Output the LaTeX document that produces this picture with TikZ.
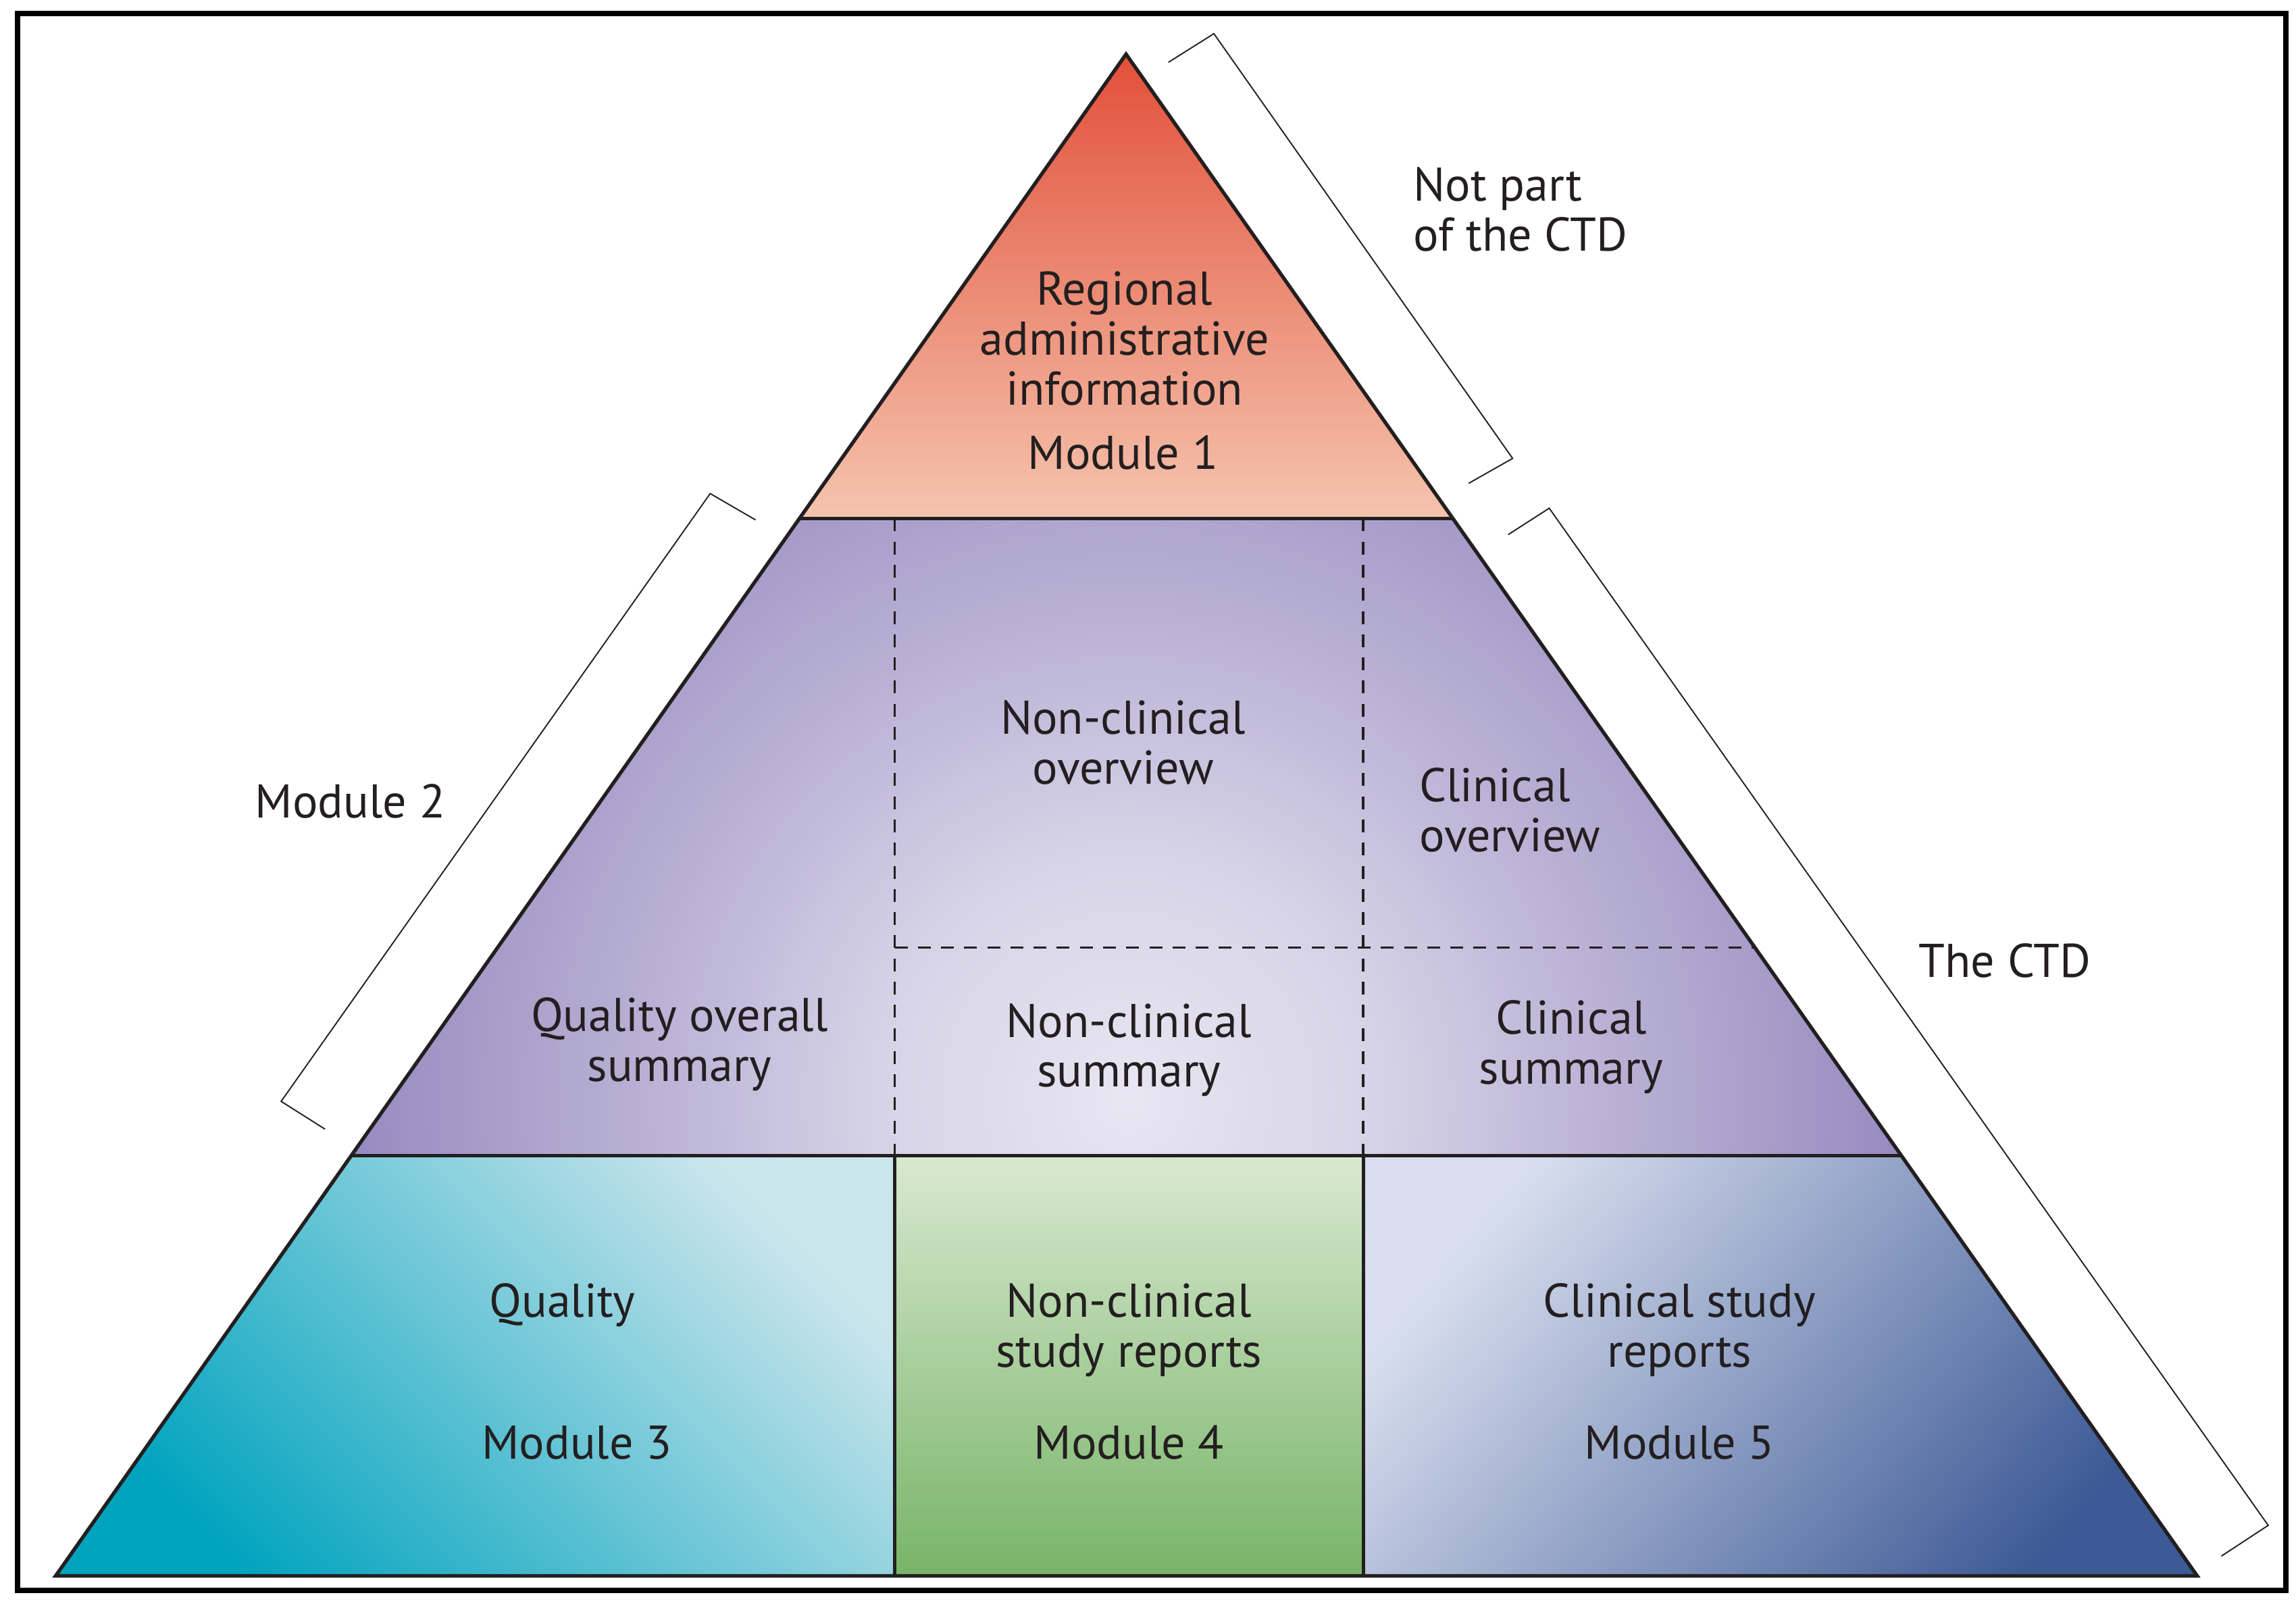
\documentclass[tikz,border=0pt]{standalone}
\usepackage{fontspec}
\setmainfont{PT Sans}
\usetikzlibrary{arrows}

\definecolor{redtop}{HTML}{E2503A}
\definecolor{redlow}{HTML}{F5C4AE}
\definecolor{pg0}{HTML}{E8E6F1}
\definecolor{pg1}{HTML}{D6D3E7}
\definecolor{pg2}{HTML}{BDB6D8}
\definecolor{pg3}{HTML}{ADA5CD}
\definecolor{pg4}{HTML}{968BC0}
\definecolor{pg5}{HTML}{8A7DB6}
\definecolor{tealdark}{HTML}{00A3BE}
\definecolor{teallight}{HTML}{CAE5EC}
\definecolor{greenlight}{HTML}{D8E8D0}
\definecolor{greendark}{HTML}{78B468}
\definecolor{bluelight}{HTML}{D8DEEE}
\definecolor{bluedark}{HTML}{3D5A96}
\definecolor{ink}{HTML}{231F20}
\pgfdeclareradialshading{purpleglow}{\pgfpoint{0cm}{0cm}}{color(0cm)=(pg0); color(3.4cm)=(pg1); color(6.1cm)=(pg2); color(8cm)=(pg3); color(10.6cm)=(pg4); color(14cm)=(pg5)}

\begin{document}
\begin{tikzpicture}[x=.02cm, y=-.02cm]
\tikzstyle{every node}=[inner sep=0pt, align=center, text=ink, font=\fontsize{18.4}{19.4}\selectfont]
\tikzstyle{edge}=[line width=1.4pt, draw=ink, line join=miter]
\tikzstyle{cut}=[line width=1pt, draw=ink, dash pattern=on 5pt off 4pt]
\tikzstyle{brack}=[line width=.5pt, draw=ink]
\useasboundingbox (0,0) rectangle (1568,1099.3);
\draw[line width=2.1pt] (12,9.2) rectangle (1561,1086);
% corners of the pyramid
\coordinate (top) at (769,37);
\coordinate (ml) at (546.5,354);
\coordinate (mr) at (991.5,354);
\coordinate (ql) at (240,789);
\coordinate (qr) at (1298,789);
\coordinate (bl) at (38,1076);
\coordinate (br) at (1500.5,1076);
\coordinate (d1t) at (611,354);
\coordinate (d1m) at (611,789);
\coordinate (d1b) at (611,1076);
\coordinate (d2t) at (931,354);
\coordinate (d2m) at (931,789);
\coordinate (d2b) at (931,1076);
\coordinate (h1) at (611,647);
\coordinate (h2) at (1198,647);
% fills
\shade[top color=redtop, bottom color=redlow] (top) -- (mr) -- (ml) -- cycle;
\begin{scope}
\clip (ml) -- (mr) -- (qr) -- (ql) -- cycle;
\node (glow) at (770,750) {\pgfuseshading{purpleglow}};
\end{scope}
\shade[top color=teallight, bottom color=tealdark, shading angle=-45] (ql) -- (d1m) -- (d1b) -- (bl) -- cycle;
\shade[top color=greenlight, bottom color=greendark] (d1m) -- (d2m) -- (d2b) -- (d1b) -- cycle;
\shade[top color=bluelight, bottom color=bluedark, shading angle=50] (d2m) -- (qr) -- (br) -- (d2b) -- cycle;
% outlines
\draw[edge] (top) -- (br) -- (bl) -- cycle;
\draw[edge] (ml) -- (mr);
\draw[edge] (ql) -- (qr);
\draw[edge] (d1m) -- (d1b);
\draw[edge] (d2m) -- (d2b);
\draw[cut] (d1t) -- (d1m);
\draw[cut] (d2t) -- (d2m);
\draw[cut] (h1) -- (h2);
% brackets
\draw[brack] (798,42.5) -- (829,23) -- (1033,313) -- (1003,330);
\draw[brack] (1030,365) -- (1058,347) -- (1549,1041.5) -- (1517,1062.5);
\draw[brack] (516,355) -- (485,337) -- (192,752) -- (222,771);
% labels
\draw (768,231) node (reg) {Regional\\administrative\\information};
\draw (767,309) node (mod1) {Module 1};
\draw (965,143) node (notctd) [anchor=west, align=left] {Not part\\of the CTD};
\draw (1310,656) node (ctd) [anchor=west] {The CTD};
\draw (174,547) node (mod2) [anchor=west] {Module 2};
\draw (767,507) node (ncover) {Non-clinical\\overview};
\draw (969,553) node (cover) [anchor=west, align=left] {Clinical\\overview};
\draw (464,713) node (qsum) {Quality overall\\summary};
\draw (771,717) node (ncsum) {Non-clinical\\summary};
\draw (1073,715) node (csum) {Clinical\\summary};
\draw (384,891) node (qual) {Quality};
\draw (394,985) node (mod3) {Module 3};
\draw (771,908) node (ncrep) {Non-clinical\\study reports};
\draw (771,985) node (mod4) {Module 4};
\draw (1147,908) node (crep) {Clinical study\\reports};
\draw (1147,985) node (mod5) {Module 5};
\end{tikzpicture}
\end{document}
